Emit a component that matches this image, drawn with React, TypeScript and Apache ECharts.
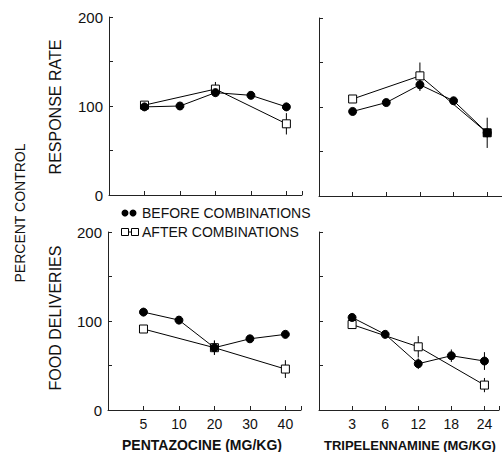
import React, { useEffect, useRef } from "react";
import * as echarts from "echarts";

const pentaDoses = ["5", "10", "20", "30", "40"];
const tripDoses = ["3", "6", "12", "18", "24"];
const yTicks = [0, 100, 200];

const rrPentaBefore = [99, 100, 115, 112, 99];
const rrPentaAfter = [101, null, 119, null, 80];
const rrTripBefore = [95, 105, 125, 107, 71];
const rrTripAfter = [109, null, 135, null, 71];
const fdPentaBefore = [110, 101, 70, 80, 85];
const fdPentaAfter = [91, null, 70, null, 46];
const fdTripBefore = [104, 85, 52, 61, 55];
const fdTripAfter = [96, null, 71, null, 28];

const rrPentaBeforeErr = [0, 0, 4, 0, 0];
const rrPentaAfterErr = [0, 0, 8, 0, 12];
const rrTripBeforeErr = [0, 0, 7, 0, 0];
const rrTripAfterErr = [0, 0, 15, 0, 17];
const fdPentaBeforeErr = [0, 0, 8, 0, 0];
const fdPentaAfterErr = [0, 0, 8, 0, 10];
const fdTripBeforeErr = [0, 0, 6, 7, 10];
const fdTripAfterErr = [0, 0, 12, 0, 8];

const FONT = "Liberation Sans";
const INK = "#111";

function pairs(vals: (number | null)[]) {
  return vals.map((v, i) => [i + 1, v]);
}
function errPairs(vals: (number | null)[], errs: number[]) {
  return vals
    .map((v, i) => [i + 1, v, errs[i]])
    .filter((d) => d[1] !== null && (d[2] as number) > 0);
}

export default function App() {
  const ref = useRef<HTMLDivElement>(null);
  useEffect(() => {
    if (!ref.current) return;
    const chart = echarts.init(ref.current, null, { renderer: "svg" });
    const grids = [
      { left: 109, top: 17, width: 193, height: 178 },
      { left: 319, top: 18, width: 193, height: 178 },
      { left: 108, top: 232, width: 193, height: 178 },
      { left: 319, top: 232, width: 193, height: 178 },
    ];
    const cats = [pentaDoses, tripDoses, pentaDoses, tripDoses];
    const xAxes = grids.map((_, gi) => ({
      type: "value",
      gridIndex: gi,
      min: 0,
      max: 5.44,
      interval: 1,
      splitLine: { show: false },
      axisLine: { show: true, lineStyle: { color: "#222", width: 1 } },
      axisTick: { show: true, inside: true, length: 4, lineStyle: { color: "#222" } },
      axisLabel: {
        show: gi >= 2,
        margin: 7,
        color: INK,
        fontFamily: FONT,
        fontSize: 14,
        formatter: (v: number) => (v >= 1 && v <= 5 ? cats[gi][v - 1] : ""),
      },
    }));
    const yAxes = grids.map((_, gi) => ({
      type: "value",
      gridIndex: gi,
      min: 0,
      max: 200,
      interval: 50,
      splitLine: { show: false },
      axisLine: { show: true, lineStyle: { color: "#222", width: 1 } },
      axisTick: { show: true, inside: true, length: 4, lineStyle: { color: "#222" } },
      axisLabel: {
        show: gi % 2 === 0,
        margin: 6,
        color: INK,
        fontFamily: FONT,
        fontSize: 15,
        formatter: (v: number) => (yTicks.includes(v) ? String(v) : ""),
      },
    }));

    const panels = [
      { before: rrPentaBefore, after: rrPentaAfter, be: rrPentaBeforeErr, ae: rrPentaAfterErr },
      { before: rrTripBefore, after: rrTripAfter, be: rrTripBeforeErr, ae: rrTripAfterErr },
      { before: fdPentaBefore, after: fdPentaAfter, be: fdPentaBeforeErr, ae: fdPentaAfterErr },
      { before: fdTripBefore, after: fdTripAfter, be: fdTripBeforeErr, ae: fdTripAfterErr },
    ];

    const errRender = (params: any, api: any) => {
      const x = api.value(0);
      const v = api.value(1);
      const e = api.value(2);
      const p1 = api.coord([x, v + e]);
      const p2 = api.coord([x, v - e]);
      return {
        type: "line",
        shape: { x1: p1[0], y1: p1[1], x2: p2[0], y2: p2[1] },
        style: { stroke: "#000", lineWidth: 1 },
      };
    };

    const series: any[] = [];
    panels.forEach((p, gi) => {
      series.push({
        type: "custom",
        xAxisIndex: gi,
        yAxisIndex: gi,
        renderItem: errRender,
        data: errPairs(p.before, p.be).concat(errPairs(p.after, p.ae)),
        z: 1,
        silent: true,
      });
      const afterData = pairs(p.after).map((d, i) =>
        gi === 1 && i === 4
          ? { value: d, itemStyle: { color: "#000" } }
          : { value: d }
      );
      series.push({
        type: "line",
        xAxisIndex: gi,
        yAxisIndex: gi,
        data: afterData,
        connectNulls: true,
        symbol: "rect",
        symbolSize: 8,
        showAllSymbol: true,
        lineStyle: { color: "#000", width: 1 },
        itemStyle: { color: "#fff", borderColor: "#000", borderWidth: 1 },
        z: 2,
      });
      series.push({
        type: "line",
        xAxisIndex: gi,
        yAxisIndex: gi,
        data: pairs(p.before),
        connectNulls: true,
        symbol: "circle",
        symbolSize: 8,
        showAllSymbol: true,
        lineStyle: { color: "#000", width: 1 },
        itemStyle: { color: "#000", borderColor: "#000", borderWidth: 1 },
        z: 3,
      });
    });

    const titleStyle = (fs: number, bold = false) => ({
      fill: INK,
      font: `${bold ? "bold " : ""}${fs}px "${FONT}"`,
      textAlign: "center",
      textVerticalAlign: "middle",
    });

    chart.setOption({
      animation: false,
      backgroundColor: "#fff",
      grid: grids,
      xAxis: xAxes,
      yAxis: yAxes,
      series,
      graphic: [
        { type: "text", x: 20, y: 213, rotation: Math.PI / 2, style: { text: "PERCENT CONTROL", ...titleStyle(14) } },
        { type: "text", x: 55, y: 107, rotation: Math.PI / 2, style: { text: "RESPONSE RATE", ...titleStyle(16) } },
        { type: "text", x: 55, y: 318, rotation: Math.PI / 2, style: { text: "FOOD DELIVERIES", ...titleStyle(16) } },
        { type: "text", x: 202, y: 445, style: { text: "PENTAZOCINE (MG/KG)", ...titleStyle(14, true) } },
        { type: "text", x: 324, y: 445, style: { text: "TRIPELENNAMINE (MG/KG)", ...titleStyle(13, true), textAlign: "left" } },
        { type: "circle", shape: { cx: 125, cy: 213, r: 3.5 }, style: { fill: "#000" } },
        { type: "circle", shape: { cx: 133, cy: 213, r: 3.5 }, style: { fill: "#000" } },
        { type: "line", shape: { x1: 125, y1: 232, x2: 134, y2: 232 }, style: { stroke: "#000", lineWidth: 1 } },
        { type: "rect", shape: { x: 121.5, y: 228.5, width: 7, height: 7 }, style: { fill: "#fff", stroke: "#000", lineWidth: 1 } },
        { type: "rect", shape: { x: 131.5, y: 228.5, width: 7, height: 7 }, style: { fill: "#fff", stroke: "#000", lineWidth: 1 } },
        { type: "text", x: 142, y: 213, style: { text: "BEFORE COMBINATIONS", ...titleStyle(14), textAlign: "left" } },
        { type: "text", x: 142, y: 232, style: { text: "AFTER COMBINATIONS", ...titleStyle(14), textAlign: "left" } },
      ],
    });
    return () => chart.dispose();
  }, []);
  return (
    <div
      ref={ref}
      style={{ position: "fixed", left: 0, top: 0, width: 502, height: 452, background: "#fff" }}
    />
  );
}
